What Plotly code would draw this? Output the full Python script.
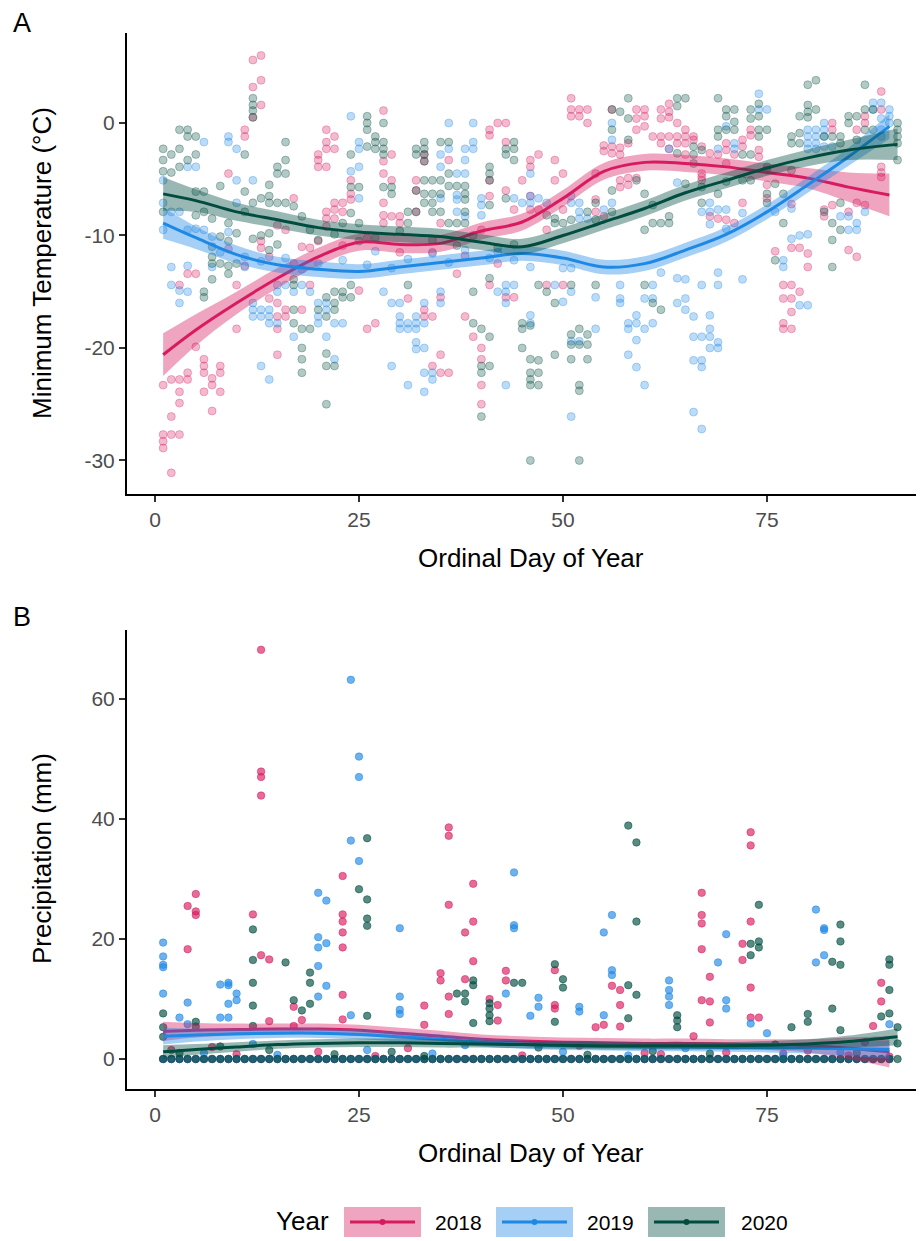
import plotly.graph_objects as go

# page offset of the plot div (browser body margin) and figure size
OFF = 8
W, H = 924 - OFF, 1241 - OFF

YEARS = ["2018", "2019", "2020"]
COLORS = {"2018": (216, 27, 96), "2019": (30, 136, 229), "2020": (0, 77, 64)}

# ---------------- Panel A: minimum temperature (day, [values]) ----------------
tmin_2018 = [
    (1, [-23.3, -27.7, -28.3, -28.9]), (2, [-22.8, -26.1, -27.7, -31.1]),
    (3, [-14.4, -22.8, -23.9, -24.9, -27.7]), (4, [-13.4, -22.2, -22.8]), (5, [-13.4, -19.9]),
    (6, [-21.0, -21.6, -22.2, -23.9]), (7, [-22.7, -23.3, -25.6]), (8, [-21.6, -22.2, -23.9]),
    (9, [-4.5, -11.2]), (10, [-14.4, -18.3]), (11, [-0.6, -1.2, -12.7]), (12, [5.6, 3.2, 0.5]),
    (13, [6.0, 3.8, 1.6, -10.5, -11.1]), (14, [-11.9, -15.6]), (15, [-9.1, -16.0, -17.2, -18.3, -20.6]),
    (16, [-9.5, -16.6, -17.2]), (17, [-6.7, -12.5]), (18, [-11.0, -16.6]), (19, [-11.1, -14.4]),
    (20, [-2.8, -3.3, -3.9, -10.5]), (21, [-0.6, -1.7, -2.3, -3.9, -7.9, -8.5, -9.2]),
    (22, [-1.2, -2.3, -7.1, -7.7, -8.5]), (23, [-7.1, -7.9, -10.9]), (24, [-5.1, -6.3, -6.8]),
    (25, [-14.9]), (26, [-10.2, -18.3]), (27, [-17.8]), (28, [1.1, -3.4, -4.5, -7.1, -8.2, -8.9]),
    (29, [-2.8, -5.1, -8.3]), (30, [-8.3, -8.9, -11.5]), (31, [-15.6]), (32, [-5.1, -6.0, -7.9]),
    (33, [-2.8, -3.4, -16.6, -17.2]), (34, [-11.5, -17.2, -21.6]), (35, [-8.9, -15.5, -20.6, -22.2]),
    (36, [-3.3, -22.2]), (37, [-13.4]), (38, [-11.8, -17.2]), (39, [-19.0]),
    (40, [-9.5, -20.0, -21.0, -23.3, -25.0]), (41, [-0.6, -1.1, -5.1, -6.5, -14.4]), (42, [0.0, -12.5]),
    (43, [0.0, -1.7, -6.0, -15.5]), (44, [-7.7, -15.5]), (45, [-5.1]), (46, [-3.3, -3.9, -6.5, -7.7]),
    (47, [-2.8, -7.7]), (48, [-9.5, -14.4]), (49, [-3.3, -5.1]), (50, [-4.5, -7.7, -14.4]),
    (51, [2.2, 1.2, 0.6]), (52, [1.2, 0.6]), (53, [1.2, 0.0]), (54, [-4.5, -6.8, -7.9]),
    (55, [-2.0, -2.5, -8.3]), (56, [1.2, -2.1, -2.7]), (57, [-2.2, -2.8, -5.1, -5.7]),
    (58, [-1.8, -4.9, -5.5]), (59, [1.2, 0.4, -0.6, -4.9]), (60, [1.2, 0.6, -0.3]), (61, [-1.2]),
    (62, [1.2, 0.4, -1.2, -1.8]), (63, [1.7, 1.0, 0.5, -1.2, -2.3]), (64, [0.0, -1.2, -1.8]),
    (65, [-0.6, -1.2, -1.8, -2.8]), (66, [-1.2, -1.5]), (67, [-2.1, -4.5, -4.8, -5.1]),
    (68, [-2.7, -8.3]), (69, [-2.8, -8.5]), (70, [-1.8, -2.4, -3.6, -8.6]), (71, [-2.8, -8.9]),
    (72, [-1.5, -2.1, -7.1]), (73, [-0.6, -1.1]), (74, [-2.4, -3.0]), (75, [-4.2, -5.5, -6.7]),
    (76, [-11.4]), (77, [-14.4, -15.6, -17.8, -18.3]), (78, [-7.2, -11.1, -14.4, -15.6, -16.8, -18.3]),
    (79, [-11.1, -15.0]), (80, [-11.6, -12.8]), (82, [-7.7, -8.3]), (83, [0.0, -0.6, -7.3]),
    (85, [-7.9, -11.3]), (86, [-0.6, -7.1, -11.9]), (87, [0.6, 0.0, -7.3]),
    (89, [2.8, 1.2, -3.9, -4.4, -4.8]),
]
tmin_2019 = [
    (1, [-5.1, -7.1, -9.5]), (2, [-7.9, -12.8, -14.4]), (3, [-7.9, -14.9, -16.0]),
    (4, [-3.9, -9.5, -12.7, -15.0]), (5, [-3.9, -9.4]), (6, [-1.7, -9.5]), (7, [-10.1, -12.8]),
    (8, [-11.5]), (9, [-1.2, -1.7, -9.7]), (10, [-2.3, -5.1, -7.1]), (11, [-11.9, -12.8]),
    (12, [-5.1, -16.0, -16.6, -17.2]), (13, [-12.3, -16.6, -17.2, -21.6]), (14, [-16.6, -17.2, -17.8, -22.8]),
    (15, [-14.4, -15.0, -17.8]), (16, [-12.0, -14.4]), (17, [-15.0, -19.0]), (18, [-13.0, -14.4]),
    (19, [-15.0]), (20, [-12.5, -16.0, -17.2, -17.8]), (21, [-16.0, -16.6, -19.0]), (22, [-17.8, -21.0]),
    (23, [-12.2, -17.8]), (24, [0.6, -4.3]), (25, [-1.7, -2.3, -3.9, -6.7]), (26, [-12.6]), (27, [-11.4]),
    (28, [-15.0]), (29, [-12.9, -16.0, -21.6]), (30, [-16.0, -17.2, -17.8, -18.3]),
    (31, [-12.1, -17.8, -18.3, -23.3]), (32, [-17.2, -17.8, -18.3, -19.5, -20.1]),
    (33, [-16.0, -17.8, -20.0, -22.2, -23.9]), (34, [-11.6, -22.2, -22.8]),
    (35, [-2.8, -3.9, -6.7, -15.0, -16.0]), (36, [0.0, -2.3, -12.4]), (37, [-4.5, -6.4, -6.8, -7.9]),
    (38, [-2.3, -3.3, -4.5, -8.3, -11.3]), (39, [0.0, -1.7, -2.3]), (40, [-6.7, -7.3, -8.2]),
    (41, [-12.0]), (42, [-11.5, -15.0]), (43, [-14.4, -15.0, -16.0, -23.3]), (44, [-6.7, -12.2, -14.4]),
    (45, [-7.1]), (46, [-4.5, -6.5, -7.1, -12.8, -17.1, -17.8]), (47, [-6.7]), (48, [-7.1]),
    (49, [-14.4]), (50, [-12.9, -15.9]), (51, [-6.5, -7.1, -12.9, -15.0, -19.4, -26.1]),
    (52, [-7.1, -7.9, -8.5, -19.4]), (53, [-8.5]), (54, [-15.5, -18.3]), (55, [-7.7]),
    (56, [0.0, -1.5, -7.1]), (57, [-14.4, -15.6, -16.0]), (58, [-17.8, -18.3, -20.6]),
    (59, [-17.1, -17.8, -19.3, -21.7]), (60, [-15.6, -18.3, -23.3]), (61, [-14.4, -15.6, -17.8]),
    (62, [-13.3]), (63, [-2.3]), (64, [-5.3, -13.8, -16.0]), (65, [-13.9, -15.6, -16.6]),
    (66, [-17.2, -19.0, -21.1, -25.7]), (67, [-7.9, -14.4, -19.0, -21.1, -21.7, -27.2]),
    (68, [-7.1, -7.9, -9.0, -17.1, -18.3, -19.0, -20.0]), (69, [-2.3, -7.7, -13.3, -14.4, -19.5, -20.0]),
    (70, [-0.3, -7.7, -9.4]), (71, [-1.8, -2.3]), (72, [-8.0, -13.9]), (74, [2.6, 1.2]), (75, [1.2]),
    (76, [-7.9]), (77, [-12.2, -12.8]), (78, [-7.6, -10.3]), (79, [-10.0, -16.2]),
    (80, [-0.6, -1.2, -1.8, -2.3, -9.9, -16.2]), (81, [-0.6, -1.2, -1.8, -2.3]),
    (82, [0.0, -0.6, -1.2, -2.1]), (83, [-2.1]), (84, [-8.3]), (85, [-8.3, -9.5]), (86, [-8.9, -9.5]),
    (87, [-7.9]), (88, [1.8, 1.2]), (89, [1.8, 0.4, -0.6, -1.2]), (90, [1.2, 0.6, 0.0]),
]
tmin_2020 = [
    (1, [-2.3, -3.3, -4.3, -7.9]), (2, [-2.8, -4.4]), (3, [-0.6, -2.3, -3.9]), (4, [-0.6, -1.2, -3.3]),
    (5, [-1.2, -2.8, -6.1, -8.2]), (6, [-6.1, -7.9, -15.0, -15.5]), (7, [-8.5, -11.0, -11.9, -12.5, -13.9]),
    (8, [-5.6, -10.1, -12.5]), (9, [-8.9, -10.5, -12.7, -13.4]), (10, [-9.8, -12.5]), (11, [-2.8, -6.1, -7.9]),
    (12, [2.2, 1.6, 1.1, 0.5, -7.1, -10.3]), (13, [-6.7, -10.0]), (14, [-5.5, -6.5, -7.1, -9.8, -11.3]),
    (15, [-3.9, -4.5, -7.1, -10.8]), (16, [-1.7, -3.3, -4.5, -7.1]), (17, [-7.4, -13.9, -14.4, -16.6, -17.8]),
    (18, [-8.3, -18.3, -20.0, -21.0, -22.2]), (19, [-9.5, -18.3]), (20, [-10.4, -16.6]),
    (21, [-15.5, -17.2, -20.5, -21.6, -25.0]), (22, [-9.9, -15.0, -16.0, -16.6, -21.6]),
    (23, [-8.9, -15.0, -15.5]), (24, [-2.8, -5.7, -8.0, -14.4, -15.5]), (25, [-5.7, -8.9, -10.5]),
    (26, [0.6, 0.0, -0.6, -2.1]), (27, [-1.2, -1.7, -2.3, -10.2]), (28, [0.0, -1.7, -2.3, -2.8, -5.7]),
    (29, [-5.7, -6.3]), (30, [-9.6]), (31, [-7.9, -8.9, -14.4]), (32, [-2.3, -2.8, -6.0, -7.9]),
    (33, [-1.7, -2.3, -2.8, -3.4, -5.1, -6.3, -7.1]), (34, [-5.1, -6.3, -7.1, -7.9, -10.4]),
    (35, [-1.7, -5.1, -6.3, -7.9]), (36, [-1.7, -4.5, -5.6, -8.9]), (37, [-5.6, -8.9, -10.9]),
    (38, [-5.6, -6.3, -6.8, -7.9, -8.9]), (39, [-10.0, -15.0, -17.8]), (40, [-18.3, -21.6, -22.2, -26.1]),
    (41, [-3.9, -4.5, -5.1, -7.3, -13.8, -19.0, -21.6]), (42, [-11.1]), (43, [-2.3, -2.8, -6.7]),
    (44, [-1.7, -2.3, -3.3, -10.8]), (45, [-17.8, -18.3, -20.0]),
    (46, [-18.0, -21.0, -22.2, -22.8, -23.3, -30.0]), (47, [-14.4, -21.1, -22.2, -23.3]),
    (48, [-8.2, -15.0]), (49, [-8.5, -8.9, -16.0, -20.6]), (50, [-8.9]),
    (51, [-8.6, -14.4, -18.8, -19.7, -21.0]), (52, [-18.3, -19.7, -23.3, -23.8, -30.0]),
    (53, [-7.9, -18.8, -19.7, -21.0]), (54, [-7.1, -8.6, -14.4]), (56, [1.2, -0.6, -6.0, -7.9]),
    (57, [1.0]), (58, [2.2, 0.4, -1.5]), (59, [-5.1]), (60, [-6.3, -9.5, -14.4]), (61, [-7.3, -8.9, -16.0]),
    (62, [-8.9, -16.6]), (63, [-8.3, -8.9]), (64, [2.2, 1.5, -2.7]), (65, [2.2, -5.4]),
    (66, [-2.1, -2.8, -3.6]), (67, [-2.4, -5.7, -7.1]), (69, [2.2, -0.6, -1.2, -6.3]),
    (70, [1.2, 0.6, -0.6, -5.2]), (71, [1.2, 0.1, -0.6]), (72, [-2.8, -5.1]), (73, [1.2, 0.4, -2.8, -5.1]),
    (74, [1.7, 0.6, -0.6, -1.2]), (75, [-0.6, -3.9, -6.3, -7.1]), (76, [-5.4, -12.2]), (77, [-6.3, -8.9]),
    (78, [-1.2, -1.8, -4.2]), (79, [0.6, -0.9, -1.8]), (80, [3.4, 1.6, 1.0, 0.5]), (81, [3.8, 1.2]),
    (82, [-1.2, -7.9]), (83, [-1.2, -8.9, -10.4, -12.8]), (84, [-1.2, -1.8, -7.1, -9.5]), (85, [0.6, 0.0]),
    (86, [0.6, -1.5]), (87, [3.4, 1.2, -0.6]), (88, [1.2, -0.6]), (91, [0.0, -0.6, -1.2, -1.8, -3.3]),
]

# smoothed fits and their standard-error half widths
smooth_days = [1, 5, 10, 15, 20, 25, 30, 35, 40, 45, 50, 55, 60, 65, 70, 75, 80, 85, 90]
smooth_days_2020 = [1, 5, 10, 15, 20, 25, 30, 35, 40, 45, 50, 55, 60, 65, 70, 75, 80, 85, 91]
tmin_fit_2018 = [-20.6, -18.4, -16.0, -13.8, -11.9, -10.6, -10.8, -10.7, -9.6, -8.8, -6.7, -4.3, -3.5, -3.6, -3.9, -4.4, -4.9, -5.7, -6.4]
tmin_se_2018 = [1.9, 1.4, 1.0, 0.9, 0.8, 0.75, 0.75, 0.75, 0.75, 0.75, 0.75, 0.75, 0.75, 0.75, 0.75, 0.8, 0.9, 1.3, 1.9]
tmin_fit_2019 = [-8.9, -10.2, -11.7, -12.6, -13.0, -13.2, -12.8, -12.4, -12.0, -11.6, -12.0, -12.8, -12.5, -11.3, -9.9, -7.9, -5.5, -3.0, -0.3]
tmin_se_2019 = [1.4, 1.0, 0.8, 0.7, 0.7, 0.65, 0.65, 0.65, 0.65, 0.65, 0.65, 0.65, 0.65, 0.65, 0.65, 0.65, 0.7, 0.8, 1.1]
tmin_fit_2020 = [-6.3, -6.9, -7.9, -8.6, -9.3, -9.7, -9.9, -10.1, -10.6, -11.0, -10.0, -8.8, -7.6, -6.2, -5.1, -4.0, -3.1, -2.4, -1.9]
tmin_se_2020 = [1.5, 1.0, 0.8, 0.75, 0.7, 0.7, 0.7, 0.7, 0.7, 0.7, 0.7, 0.7, 0.7, 0.7, 0.7, 0.7, 0.75, 0.9, 1.4]

# ---------------- Panel B: precipitation (day, [values]) ----------------
prcp_2018 = [
    (2, [1.5]), (4, [25.5, 18.3]), (5, [27.5, 24.6, 24.0]), (7, [2.0]), (10, [0.8]), (12, [24.1]),
    (13, [68.2, 47.9, 47.0, 43.9, 17.3]), (14, [16.6, 6.3]), (17, [8.7, 5.5]), (18, [6.5]), (20, [1.2]),
    (23, [30.5, 24.1, 22.9, 21.1, 18.6, 10.7, 6.6]), (27, [0.5]), (31, [1.8]), (33, [8.9, 5.7]),
    (35, [14.3, 13.1]), (36, [38.6, 37.2, 25.7, 10.4, 7.5]), (38, [21.1, 13.3]), (39, [29.2, 22.9, 16.3]),
    (41, [10.0]), (42, [9.0, 6.4]), (43, [14.7, 13.1]), (45, [0.6]), (49, [14.8, 9.0, 8.4]), (52, [2.2]),
    (54, [5.3]), (55, [5.7]), (56, [12.2]), (57, [11.5, 9.0, 5.4]), (60, [1.0]), (62, [0.8]), (66, [3.8]),
    (67, [27.7, 24.0, 22.6, 18.3, 9.8]), (68, [13.7, 9.6, 6.1]), (70, [1.1]), (72, [19.2, 16.5]),
    (73, [37.8, 35.6, 22.9, 11.9, 6.9]), (74, [6.9]), (77, [0.9]), (80, [1.4]), (85, [0.6]), (87, [2.8]),
    (88, [5.5]), (89, [12.7, 9.6]), (90, [0.4]),
]
prcp_2019 = [
    (1, [19.4, 17.1, 15.7, 15.3, 10.9]), (3, [6.9]), (4, [9.4, 5.8]), (6, [1.0]), (8, [12.4, 6.9]),
    (9, [12.7, 12.3, 9.2, 6.9]), (10, [10.9, 9.8]), (12, [2.5]), (15, [0.7]),
    (20, [27.7, 20.3, 18.6, 15.5, 10.4]), (21, [26.4, 19.3, 12.2]), (24, [63.2, 36.4, 7.3]),
    (25, [50.4, 47.0, 33.0]), (26, [1.5]), (30, [21.8, 10.4, 8.2, 7.5]), (34, [0.9]), (38, [2.3]),
    (43, [10.9]), (44, [31.1, 22.3, 21.8]), (46, [7.2]), (47, [10.2, 8.7]), (50, [1.2]), (52, [8.7, 7.9]),
    (55, [21.1, 7.3]), (56, [24.0, 14.8, 14.0]), (58, [0.6]), (63, [13.1, 11.5, 10.4, 9.0]), (65, [1.8]),
    (69, [16.1]), (70, [20.8, 9.8, 8.4]), (73, [5.9]), (75, [4.3]), (77, [0.5]), (81, [24.9, 16.1]),
    (82, [21.8, 21.5, 17.3]), (84, [1.1]), (90, [5.8]),
]
prcp_2020 = [
    (1, [7.6, 5.3, 3.7]), (3, [1.0]), (5, [6.2, 5.4]), (8, [2.1]), (12, [21.6, 16.5, 12.7, 8.9, 5.5]),
    (14, [1.5]), (16, [16.1]), (17, [9.8]), (18, [8.1]), (19, [14.4, 12.7, 9.2]), (22, [0.8]), (25, [28.3]),
    (26, [36.8, 26.6, 23.4, 22.2, 7.2]), (29, [1.2]), (33, [0.5]), (37, [10.9]), (38, [9.6, 10.9]),
    (39, [13.1, 12.3, 6.0]), (41, [9.3, 8.4, 7.3, 6.3]), (44, [12.7]), (45, [12.7]), (47, [1.9]),
    (49, [15.8, 6.2]), (50, [13.3, 11.9]), (53, [0.7]), (58, [38.9, 12.3, 6.8]), (59, [36.1, 22.9, 10.7]),
    (61, [1.3]), (64, [7.3, 6.4, 5.3]), (68, [0.9]), (73, [19.2, 17.3]), (74, [25.7, 19.6, 18.6]),
    (76, [2.4]), (78, [5.3]), (80, [7.5, 6.2]), (83, [16.2, 8.4]), (84, [22.4, 19.6, 15.7, 4.8]),
    (86, [1.0]), (89, [7.1]), (90, [16.6, 15.7, 11.5, 7.6]), (91, [5.3, 2.6]),
]
# days with a dry (0 mm) reading
dry_days_2018 = [1, 2, 3, 4, 5, 6, 7, 8, 9, 10, 11, 12, 13, 14, 15, 16, 17, 18, 19, 20, 21, 22, 23, 24, 25, 26, 27, 28, 29, 30,
                 31, 32, 33, 34, 35, 36, 37, 38, 39, 40, 41, 42, 43, 44, 45, 46, 47, 48, 49, 50, 51, 52, 53, 54, 55, 56, 57, 58, 59, 60,
                 61, 62, 63, 64, 65, 66, 67, 68, 69, 70, 71, 72, 73, 74, 75, 76, 77, 78, 79, 80, 81, 82, 83, 84, 85, 86, 87, 88, 89, 90]
dry_days_2019 = [1, 2, 3, 4, 5, 6, 7, 8, 9, 10, 11, 12, 13, 14, 15, 16, 17, 18, 19, 20, 21, 22, 23, 24, 25, 26, 27, 28, 29, 30,
                 31, 32, 33, 34, 35, 36, 37, 38, 39, 40, 41, 42, 43, 44, 45, 46, 47, 48, 49, 50, 51, 52, 53, 54, 55, 56, 57, 58, 59, 60,
                 61, 62, 63, 64, 65, 66, 67, 68, 69, 70, 71, 72, 73, 74, 75, 76, 77, 78, 79, 80, 81, 82, 83, 84, 85, 86, 87, 88, 89, 90]
dry_days_2020 = [1, 2, 3, 4, 5, 6, 7, 8, 9, 10, 11, 12, 13, 14, 15, 16, 17, 18, 19, 20, 21, 22, 23, 24, 25, 26, 27, 28, 29, 30,
                 31, 32, 33, 34, 35, 36, 37, 38, 39, 40, 41, 42, 43, 44, 45, 46, 47, 48, 49, 50, 51, 52, 53, 54, 55, 56, 57, 58, 59, 60,
                 61, 62, 63, 64, 65, 66, 67, 68, 69, 70, 71, 72, 73, 74, 75, 76, 77, 78, 79, 80, 81, 82, 83, 84, 85, 86, 87, 88, 89, 90, 91]

prcp_fit_2018 = [4.6, 4.8, 4.9, 5.0, 5.0, 4.8, 4.3, 3.8, 3.3, 3.0, 2.8, 2.7, 2.6, 2.6, 2.5, 2.4, 2.2, 1.8, 1.2]
prcp_se_2018 = [1.6, 1.2, 1.0, 0.9, 0.9, 0.9, 0.9, 0.9, 0.8, 0.8, 0.8, 0.8, 0.8, 0.8, 0.8, 0.9, 1.1, 1.8, 2.6]
prcp_fit_2019 = [3.8, 4.0, 4.2, 4.3, 4.3, 4.1, 3.7, 3.3, 2.8, 2.4, 2.2, 2.1, 2.0, 2.0, 1.9, 1.9, 1.8, 1.7, 1.6]
prcp_se_2019 = [1.4, 1.1, 0.9, 0.8, 0.8, 0.8, 0.8, 0.8, 0.7, 0.7, 0.7, 0.7, 0.7, 0.7, 0.7, 0.8, 0.9, 1.2, 1.5]
prcp_fit_2020 = [1.2, 1.6, 2.0, 2.4, 2.6, 2.7, 2.7, 2.6, 2.5, 2.4, 2.3, 2.2, 2.2, 2.2, 2.2, 2.3, 2.5, 2.9, 3.7]
prcp_se_2020 = [1.1, 0.9, 0.8, 0.7, 0.7, 0.7, 0.7, 0.7, 0.6, 0.6, 0.6, 0.6, 0.6, 0.6, 0.6, 0.7, 0.8, 1.0, 1.4]

x_ticks = [0, 25, 50, 75]
tmin_ticks = [-30, -20, -10, 0]
prcp_ticks = [0, 20, 40, 60]


def rgba(c, a):
    return f"rgba({c[0]},{c[1]},{c[2]},{a})"


def flatten(groups):
    xs, ys = [], []
    for d, vals in groups:
        for v in vals:
            xs.append(d)
            ys.append(v)
    return xs, ys


def fx(p):  # page pixel -> paper x
    return (p - OFF) / W


def fy(p):  # page pixel -> paper y
    return 1 - (p - OFF) / H


fig = go.Figure()

tmin = {"2018": tmin_2018, "2019": tmin_2019, "2020": tmin_2020}
prcp = {"2018": prcp_2018, "2019": prcp_2019, "2020": prcp_2020}
dry = {"2018": dry_days_2018, "2019": dry_days_2019, "2020": dry_days_2020}
tfit = {"2018": (smooth_days, tmin_fit_2018, tmin_se_2018),
        "2019": (smooth_days, tmin_fit_2019, tmin_se_2019),
        "2020": (smooth_days_2020, tmin_fit_2020, tmin_se_2020)}
pfit = {"2018": (smooth_days, prcp_fit_2018, prcp_se_2018),
        "2019": (smooth_days, prcp_fit_2019, prcp_se_2019),
        "2020": (smooth_days_2020, prcp_fit_2020, prcp_se_2020)}

# points panel A
for y in YEARS:
    xs, ys = flatten(tmin[y])
    c = COLORS[y]
    fig.add_trace(go.Scatter(x=xs, y=ys, mode="markers", xaxis="x", yaxis="y", showlegend=False,
                             marker=dict(size=8, color=rgba(c, 0.3), line=dict(width=1, color=rgba(c, 0.3)))))
# points panel B
for y in YEARS:
    xs, ys = flatten(prcp[y])
    xs = dry[y] + xs
    ys = [0.0] * len(dry[y]) + ys
    c = COLORS[y]
    fig.add_trace(go.Scatter(x=xs, y=ys, mode="markers", xaxis="x2", yaxis="y2", showlegend=False,
                             marker=dict(size=7.5, color=rgba(c, 0.65), line=dict(width=0.8, color=rgba(c, 0.65)))))


def add_smooth(days, fit, se, c, xa, ya):
    lo = [f - s for f, s in zip(fit, se)]
    hi = [f + s for f, s in zip(fit, se)]
    fig.add_trace(go.Scatter(x=days, y=lo, mode="lines", line=dict(width=0, shape="spline"),
                             xaxis=xa, yaxis=ya, showlegend=False, hoverinfo="skip"))
    fig.add_trace(go.Scatter(x=days, y=hi, mode="lines", line=dict(width=0, shape="spline"),
                             fill="tonexty", fillcolor=rgba(c, 0.4),
                             xaxis=xa, yaxis=ya, showlegend=False, hoverinfo="skip"))
    fig.add_trace(go.Scatter(x=days, y=fit, mode="lines", line=dict(width=3, color=rgba(c, 1), shape="spline"),
                             xaxis=xa, yaxis=ya, showlegend=False))


for y in YEARS:
    d, f, s = tfit[y]
    add_smooth(d, f, s, COLORS[y], "x", "y")
for y in YEARS:
    d, f, s = pfit[y]
    add_smooth(d, f, s, COLORS[y], "x2", "y2")

FONT = "Liberation Sans, Arial, sans-serif"
x_dom = [fx(127), 1.0]
x_rng = [-3.43, -3.43 + (924 - 127) / 8.16]
axis_common = dict(showline=True, linecolor="black", linewidth=2, ticks="outside", ticklen=6,
                   tickwidth=1.5, tickcolor="#333333", showgrid=False, zeroline=False,
                   tickfont=dict(family=FONT, size=21, color="#4D4D4D"))

fig.update_layout(
    width=W, height=H, margin=dict(l=0, r=0, t=0, b=0),
    paper_bgcolor="white", plot_bgcolor="white", showlegend=False,
    xaxis=dict(domain=x_dom, range=x_rng, anchor="y", tickvals=x_ticks,
               ticktext=[str(v) for v in x_ticks], **axis_common),
    yaxis=dict(domain=[fy(494), fy(33)], range=[-32.98, 8.0], anchor="x",
               tickvals=tmin_ticks, ticktext=[str(v) for v in tmin_ticks], **axis_common),
    xaxis2=dict(domain=x_dom, range=x_rng, anchor="y2", tickvals=x_ticks,
                ticktext=[str(v) for v in x_ticks], **axis_common),
    yaxis2=dict(domain=[fy(1089), fy(630)], range=[-5.0, 71.5], anchor="x2",
                tickvals=prcp_ticks, ticktext=[str(v) for v in prcp_ticks], **axis_common),
)


def ann(text, x, y, size, angle=0, xanchor="center"):
    fig.add_annotation(text=text, x=fx(x), y=fy(y), xref="paper", yref="paper",
                       showarrow=False, textangle=angle, xanchor=xanchor, yanchor="middle",
                       borderpad=0, font=dict(family=FONT, size=size, color="black"))


ann("A", 22, 23, 27)
ann("B", 22, 617, 27)
ann("Minimum Temperature (°C)", 42, 263, 26, angle=-90)
ann("Precipitation (mm)", 42, 859, 26, angle=-90)
ann("Ordinal Day of Year", 531, 558, 26)
ann("Ordinal Day of Year", 531, 1153, 26)

# legend
ann("Year", 302, 1221, 26)
legend_boxes = [(344, 421, "2018", 434), (496, 573, "2019", 586), (648, 725, "2020", 740)]
for x0, x1, lab, tx in legend_boxes:
    c = COLORS[lab]
    fig.add_shape(type="rect", xref="paper", yref="paper", x0=fx(x0), x1=fx(x1),
                  y0=fy(1237), y1=fy(1207), fillcolor=rgba(c, 0.4), line=dict(width=0))
    fig.add_shape(type="line", xref="paper", yref="paper", x0=fx(x0 + 6), x1=fx(x1 - 6),
                  y0=fy(1222), y1=fy(1222), line=dict(color=rgba(c, 1), width=3))
    xm = (x0 + x1) / 2
    fig.add_shape(type="circle", xref="paper", yref="paper", x0=fx(xm - 3), x1=fx(xm + 3),
                  y0=fy(1225), y1=fy(1219), fillcolor=rgba(c, 1), line=dict(width=0))
    ann(lab, tx, 1222, 21, xanchor="left")

fig.write_html("out.html")
